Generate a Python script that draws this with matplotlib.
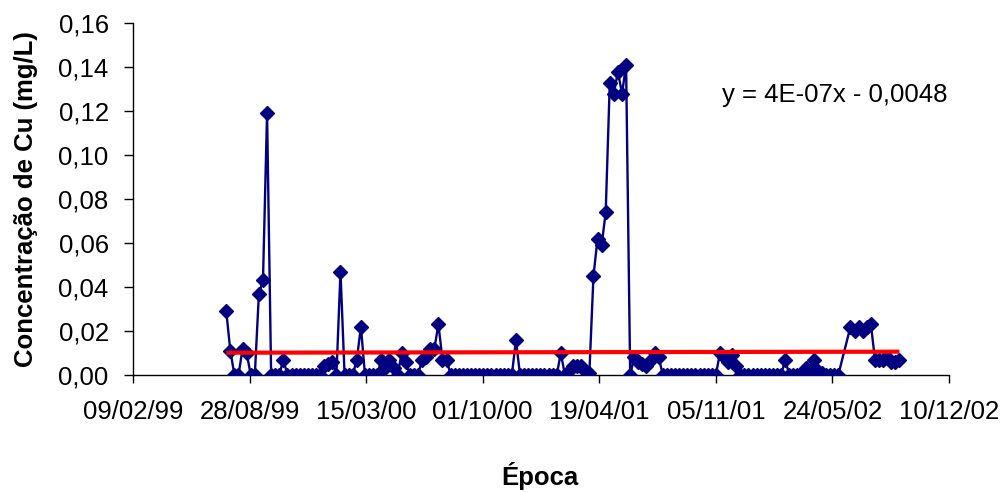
import matplotlib
matplotlib.use("Agg")
import matplotlib.pyplot as plt
from matplotlib.ticker import FuncFormatter
import pandas as pd

plt.rcParams['font.family'] = ['Liberation Sans', 'DejaVu Sans']

# ---- data ----
dates_1999 = ["19/07/99", "26/07/99", "02/08/99", "09/08/99", "16/08/99", "23/08/99",
              "30/08/99", "06/09/99", "13/09/99", "20/09/99", "27/09/99", "04/10/99",
              "11/10/99", "18/10/99", "25/10/99", "01/11/99", "08/11/99", "15/11/99",
              "22/11/99", "29/11/99", "06/12/99", "13/12/99", "20/12/99", "27/12/99"]
cu_1999 = [0.029, 0.011, 0.000, 0.000, 0.012, 0.010,
           0.000, 0.000, 0.037, 0.043, 0.119, 0.000,
           0.000, 0.000, 0.007, 0.000, 0.000, 0.000,
           0.000, 0.000, 0.000, 0.000, 0.000, 0.000]

dates_2000 = ["03/01/00", "10/01/00", "17/01/00", "24/01/00", "31/01/00", "07/02/00",
              "14/02/00", "21/02/00", "28/02/00", "06/03/00", "13/03/00", "20/03/00",
              "27/03/00", "03/04/00", "10/04/00", "17/04/00", "24/04/00", "01/05/00",
              "08/05/00", "15/05/00", "22/05/00", "29/05/00", "05/06/00", "12/06/00",
              "19/06/00", "26/06/00", "03/07/00", "10/07/00", "17/07/00", "24/07/00",
              "31/07/00", "07/08/00", "14/08/00", "21/08/00", "28/08/00", "04/09/00",
              "11/09/00", "18/09/00", "25/09/00", "02/10/00", "09/10/00", "16/10/00",
              "23/10/00", "30/10/00", "06/11/00", "13/11/00", "20/11/00", "27/11/00",
              "04/12/00", "11/12/00", "18/12/00", "25/12/00"]
cu_2000 = [0.004, 0.005, 0.006, 0.000, 0.047, 0.000,
           0.000, 0.000, 0.007, 0.022, 0.000, 0.000,
           0.000, 0.000, 0.007, 0.003, 0.007, 0.003,
           0.000, 0.010, 0.006, 0.000, 0.000, 0.000,
           0.007, 0.008, 0.012, 0.012, 0.023, 0.007,
           0.007, 0.000, 0.000, 0.000, 0.000, 0.000,
           0.000, 0.000, 0.000, 0.000, 0.000, 0.000,
           0.000, 0.000, 0.000, 0.000, 0.000, 0.016,
           0.000, 0.000, 0.000, 0.000]

dates_2001 = ["01/01/01", "08/01/01", "15/01/01", "22/01/01", "29/01/01", "05/02/01",
              "12/02/01", "19/02/01", "26/02/01", "05/03/01", "12/03/01", "19/03/01",
              "26/03/01", "02/04/01", "09/04/01", "16/04/01", "23/04/01", "30/04/01",
              "07/05/01", "14/05/01", "21/05/01", "28/05/01", "04/06/01", "11/06/01",
              "18/06/01", "25/06/01", "02/07/01", "09/07/01", "16/07/01", "23/07/01",
              "30/07/01", "06/08/01", "13/08/01", "20/08/01", "27/08/01", "03/09/01",
              "10/09/01", "17/09/01", "24/09/01", "01/10/01", "08/10/01", "15/10/01",
              "22/10/01", "29/10/01", "05/11/01", "12/11/01", "19/11/01", "26/11/01",
              "03/12/01", "10/12/01", "17/12/01", "24/12/01", "31/12/01"]
cu_2001 = [0.000, 0.000, 0.000, 0.000, 0.000, 0.000,
           0.010, 0.000, 0.002, 0.004, 0.004, 0.004,
           0.002, 0.001, 0.045, 0.062, 0.059, 0.074,
           0.133, 0.128, 0.138, 0.128, 0.141, 0.000,
           0.008, 0.006, 0.005, 0.004, 0.007, 0.010,
           0.008, 0.000, 0.000, 0.000, 0.000, 0.000,
           0.000, 0.000, 0.000, 0.000, 0.000, 0.000,
           0.000, 0.000, 0.000, 0.010, 0.008, 0.006,
           0.009, 0.004, 0.000, 0.000, 0.000]

dates_2002 = ["07/01/02", "14/01/02", "21/01/02", "28/01/02", "04/02/02", "11/02/02",
              "18/02/02", "25/02/02", "04/03/02", "11/03/02", "18/03/02", "25/03/02",
              "01/04/02", "08/04/02", "15/04/02", "22/04/02", "29/04/02", "06/05/02",
              "13/05/02", "20/05/02", "27/05/02", "03/06/02", "24/06/02", "01/07/02",
              "08/07/02", "15/07/02", "22/07/02", "29/07/02", "05/08/02", "12/08/02",
              "19/08/02", "26/08/02", "02/09/02", "09/09/02", "16/09/02"]
cu_2002 = [0.000, 0.000, 0.000, 0.000, 0.000, 0.000,
           0.000, 0.000, 0.007, 0.000, 0.000, 0.000,
           0.001, 0.003, 0.002, 0.007, 0.002, 0.001,
           0.000, 0.000, 0.000, 0.000, 0.022, 0.020,
           0.022, 0.020, 0.022, 0.023, 0.007, 0.007,
           0.007, 0.008, 0.006, 0.006, 0.007]

# trend line (Excel serial date x)
trend_slope = 4e-07
trend_intercept = -0.0044
equation_text = "y = 4E-07x - 0,0048"

x_tick_labels = ["09/02/99", "28/08/99", "15/03/00", "01/10/00",
                 "19/04/01", "05/11/01", "24/05/02", "10/12/02"]
y_ticks = [0.00, 0.02, 0.04, 0.06, 0.08, 0.10, 0.12, 0.14, 0.16]

# ---- build ----
all_dates = pd.to_datetime(dates_1999 + dates_2000 + dates_2001 + dates_2002, format="%d/%m/%y")
all_cu = cu_1999 + cu_2000 + cu_2001 + cu_2002
tick_dates = pd.to_datetime(x_tick_labels, format="%d/%m/%y")

FS = 18.5

fig = plt.figure(figsize=(10.07, 4.92), dpi=100)
ax = fig.add_axes([133/1007, 1 - 375/492, (949 - 133)/1007, (375 - 23.3)/492])

ax.plot(all_dates, all_cu, color="#000080", lw=1.7, marker="D", ms=7.0,
        mec="#000080", mfc="#000080", zorder=3)

excel_epoch = pd.Timestamp("1899-12-30")
t0, t1 = all_dates[0], all_dates[-1]
s0 = (t0 - excel_epoch).days
s1 = (t1 - excel_epoch).days
ax.plot([t0, t1], [trend_slope * s0 + trend_intercept, trend_slope * s1 + trend_intercept],
        color="#FF0000", lw=3, zorder=4, solid_capstyle="butt")

ax.set_xlim(tick_dates[0], tick_dates[-1])
ax.set_ylim(0, 0.16)
ax.set_xticks(tick_dates)
ax.set_xticklabels(x_tick_labels)
ax.set_yticks(y_ticks)
ax.yaxis.set_major_formatter(FuncFormatter(lambda v, p: f"{v:.2f}".replace(".", ",")))

for s in ["top", "right"]:
    ax.spines[s].set_visible(False)
for s in ["left", "bottom"]:
    ax.spines[s].set_linewidth(1.0)
    ax.spines[s].set_color("black")

ax.tick_params(axis="y", direction="out", length=6.5, width=1, labelsize=FS, pad=11)
ax.tick_params(axis="x", direction="out", length=6, width=1, labelsize=FS, pad=12)

ax.set_ylabel("Concentração de Cu (mg/L)", fontsize=FS, fontweight="bold")
ax.yaxis.set_label_coords(-(133 - 38) / 816, 0.5)
fig.text(540/1007, 1 - 476/492, "Época", fontsize=FS, fontweight="bold",
         ha="center", va="center")
fig.text(722/1007, 1 - 102/492, equation_text, fontsize=FS, ha="left", va="baseline")

fig.savefig("out.png", dpi=100)
